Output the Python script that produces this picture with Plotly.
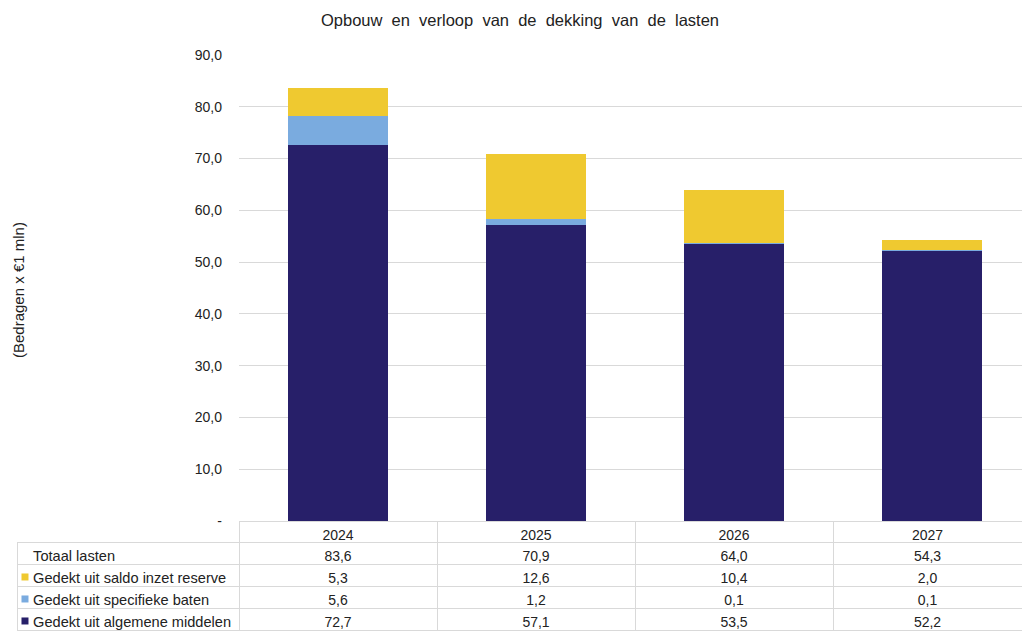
import plotly.graph_objects as go

years = ["2024", "2025", "2026", "2027"]
totaal = [83.6, 70.9, 64.0, 54.3]
reserve = [5.3, 12.6, 10.4, 2.0]
specifiek = [5.6, 1.2, 0.1, 0.1]
algemeen = [72.7, 57.1, 53.5, 52.2]

row_names = ["Totaal lasten", "Gedekt uit saldo inzet reserve",
             "Gedekt uit specifieke baten", "Gedekt uit algemene middelen"]

ytick_vals = [0, 10, 20, 30, 40, 50, 60, 70, 80, 90]
ytick_text = ["-", "10,0", "20,0", "30,0", "40,0", "50,0", "60,0", "70,0", "80,0", "90,0"]

C_NAVY = "#271F69"
C_BLUE = "#7AABDF"
C_YEL = "#EFC930"
series_colors = [C_YEL, C_BLUE, C_NAVY]

W, H = 1022, 631
FONT = "Liberation Sans, Arial, sans-serif"

def fmt(v):
    return f"{v:.1f}".replace(".", ",")

fig = go.Figure()
fig.add_trace(go.Bar(x=years, y=algemeen, marker=dict(color=C_NAVY, line=dict(width=0)), width=0.51,
                     name=row_names[3], xaxis="x", yaxis="y", hoverinfo="y"))
fig.add_trace(go.Bar(x=years, y=specifiek, marker=dict(color=C_BLUE, line=dict(width=0)), width=0.51,
                     name=row_names[2], xaxis="x", yaxis="y", hoverinfo="y"))
fig.add_trace(go.Bar(x=years, y=reserve, marker=dict(color=C_YEL, line=dict(width=0)), width=0.51,
                     name=row_names[1], xaxis="x", yaxis="y", hoverinfo="y"))

# colour keys for the table rows, drawn on a hidden axis pair beneath the label column
fig.add_trace(go.Scatter(x=[0.036] * 3, y=row_names[1:], mode="markers",
                         marker=dict(symbol="square", size=7, color=series_colors, line=dict(width=0)),
                         xaxis="x2", yaxis="y2", hoverinfo="skip", showlegend=False))

# non-breaking spaces keep each label on one line (no table word-wrap)
row_labels = ["\u00a0\u00a0" + n.replace(" ", "\u00a0") for n in row_names]
cols = [row_labels]
for i in range(len(years)):
    cols.append([fmt(totaal[i]), fmt(reserve[i]), fmt(specifiek[i]), fmt(algemeen[i])])

plot_left = 239
table_left = 17
cat_w = 198
left_col = plot_left - table_left
last_col = W - (plot_left + 3 * cat_w)
hdr_h = 21
row_h = 22
table_top = 521

fig.add_trace(go.Table(
    domain=dict(x=[table_left / W, 1.0], y=[0, 1 - table_top / H]),
    columnwidth=[left_col, cat_w, cat_w, cat_w, last_col],
    header=dict(values=[""] + years,
                align="center", height=hdr_h,
                line=dict(color=["rgba(0,0,0,0)"] + ["#d9d9d9"] * 4, width=1),
                fill=dict(color=["rgba(0,0,0,0)"] + ["white"] * 4),
                font=dict(family=FONT, size=14, color="#222222")),
    cells=dict(values=cols,
               align=["left", "center", "center", "center", "center"],
               height=row_h,
               line=dict(color="#d9d9d9", width=1),
               fill=dict(color=["rgba(0,0,0,0)"] + ["white"] * 4),
               font=dict(family=FONT, size=[14.6, 14, 14, 14, 14], color="#222222")),
))

rows_top = table_top + hdr_h
rows_bot = rows_top + row_h * len(row_names)

fig.update_layout(
    width=W, height=H,
    barmode="stack",
    showlegend=False,
    plot_bgcolor="white", paper_bgcolor="white",
    margin=dict(l=0, r=0, t=0, b=0, autoexpand=False),
    title=dict(text="Opbouw  en  verloop  van  de  dekking  van  de  lasten",
               x=520 / W, xanchor="center", y=1 - 20 / H, yanchor="middle",
               font=dict(family=FONT, size=16.5, color="#222222")),
    xaxis=dict(domain=[plot_left / W, 1.0], type="category", automargin=False,
               range=[-0.5, -0.5 + (W - plot_left) / cat_w],
               showticklabels=False, showgrid=False, zeroline=False, showline=False),
    yaxis=dict(domain=[1 - 521 / H, 1 - 55 / H], range=[0, 90], automargin=False,
               tickvals=ytick_vals, ticktext=ytick_text,
               showgrid=True, gridcolor="#d9d9d9", gridwidth=1,
               zeroline=False, showline=False, ticks="",
               ticklabelstandoff=16,
               tickfont=dict(family=FONT, size=14, color="#222222")),
    xaxis2=dict(domain=[table_left / W, plot_left / W], range=[0, 1], anchor="y2", automargin=False,
                visible=False, fixedrange=True),
    yaxis2=dict(domain=[max(0, 1 - rows_bot / H), 1 - rows_top / H], type="category",
                categoryorder="array", categoryarray=row_names,
                range=[len(row_names) - 0.59, -0.59], anchor="x2", automargin=False,
                visible=False, fixedrange=True),
    annotations=[dict(text="(Bedragen x €1 mln)", textangle=-90,
                      x=18 / W, y=1 - 290 / H, xref="paper", yref="paper",
                      xanchor="center", yanchor="middle", showarrow=False,
                      font=dict(family=FONT, size=15, color="#222222"))],
)

fig.write_html("out.html", config=dict(displayModeBar=False),
               post_script="document.body.style.margin='0';document.body.style.overflow='hidden';")
